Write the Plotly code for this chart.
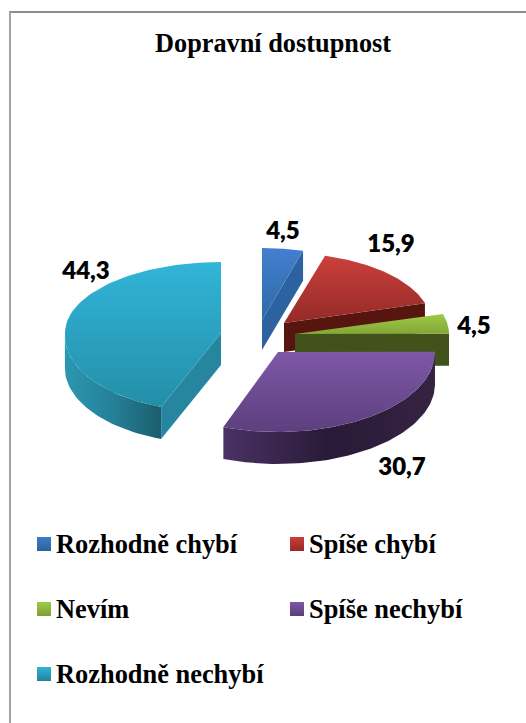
import math
import plotly.graph_objects as go

# ---- data ----
categories = ["Rozhodně chybí", "Spíše chybí", "Nevím", "Spíše nechybí", "Rozhodně nechybí"]
values = [4.5, 15.9, 4.5, 30.7, 44.3]
chart_title = "Dopravní dostupnost"

# ---- styling / layout ----
W, H = 526, 723
apex = [(262, 320), (284, 323), (295, 334), (278, 352), (221, 333)]
radius_x = [147, 147, 154, 157, 156]
radius_far = [72, 70, 72, 72, 71]
radius_near = [79, 79, 79, 80, 79]
near_shear = [0, 0, 0, 0, 6]
depth = [30, 29, 32, 32, 32]
top_col = [("#437fcf", "#2e6aa6"), ("#cb403c", "#932a27"), ("#9fcb44", "#82a637"),
           ("#7f58a8", "#5d3f7e"), ("#31b5d8", "#248ea8")]
cut_col = ["#2b629f", "#57150f", "#42521b", "#33203f", "#26869f"]
wall_col = [None, None, None,
            [[0, "#4a3264"], [0.5, "#281a38"], [1, "#352342"]],
            [[0, "#2c97b1"], [0.5, "#258098"], [1, "#1b5d6c"]]]
label_pos = [(283, 233), (391, 246), (474, 328), (402, 469), (86, 273)]
legend_pos = [(44, 544), (297, 544), (44, 609), (297, 609), (44, 674)]
legend_text_x = [56, 309, 56, 309, 56]
legend_text_y = [546, 546, 611, 611, 676]
legend_col = [("#3f7cc8", "#2c639c"), ("#cc3f3b", "#962a27"), ("#a0cc45", "#7f9e35"),
              ("#7f58a8", "#5a3d7a"), ("#31b5d8", "#22849c")]
SERIF = "Liberation Serif"

fig = go.Figure()


def pt(i, th, drop=0.0):
    ax, ay = apex[i]
    c = math.cos(th)
    b = radius_far[i] if c > 0 else radius_near[i]
    shear = near_shear[i] * min(c, 0.0)
    return ax + radius_x[i] * math.sin(th) + shear, ay - b * c + drop


def poly(xy, gradient):
    fig.add_trace(go.Scatter(
        x=[p[0] for p in xy], y=[p[1] for p in xy], mode="lines",
        line=dict(width=0), fill="toself", fillgradient=gradient,
        hoverinfo="skip", showlegend=False))


def solid(c):
    return dict(type="vertical", colorscale=[[0, c], [1, c]])


total = sum(values)
edges = [0.0]
for v in values:
    edges.append(edges[-1] + v / total * 2 * math.pi)

for i in [0, 4, 1, 2, 3]:
    a0, a1 = edges[i], edges[i + 1]
    n = 80
    ths = [a0 + (a1 - a0) * k / n for k in range(n + 1)]
    h = depth[i]
    # outer wall (front half only)
    if wall_col[i]:
        vis = [t for t in ths if math.pi / 2 <= t <= 3 * math.pi / 2]
        wall = [pt(i, t) for t in vis] + [pt(i, t, h) for t in reversed(vis)]
        poly(wall + wall[:1], dict(type="horizontal", colorscale=wall_col[i]))
    # visible cut face
    th = a0 if i == 4 else a1
    ax, ay = apex[i]
    if i != 3:
        quad = [(ax, ay), pt(i, th), pt(i, th, h), (ax, ay + h), (ax, ay)]
        poly(quad, solid(cut_col[i]))
    # top face (light at the far edge, darker toward the viewer)
    top = [(ax, ay)] + [pt(i, t) for t in ths] + [(ax, ay)]
    poly(top, dict(type="vertical", colorscale=[[0, top_col[i][1]], [1, top_col[i][0]]]))

# value labels
for i, v in enumerate(values):
    fig.add_trace(go.Scatter(
        x=[label_pos[i][0]], y=[label_pos[i][1]], mode="text",
        text=[f"{v:.1f}".replace(".", ",")], textposition="middle center",
        textfont=dict(family="Lato", size=24, color="#000000", weight=800),
        hoverinfo="skip", showlegend=False))

# legend rows
for i, c in enumerate(categories):
    fig.add_trace(go.Scatter(
        x=[legend_pos[i][0]], y=[legend_pos[i][1]], mode="markers", name=c,
        marker=dict(symbol="square", size=14, color=legend_col[i][0], line=dict(width=0),
                    gradient=dict(type="vertical", color=legend_col[i][1])),
        hoverinfo="skip", showlegend=False))
    fig.add_trace(go.Scatter(
        x=[legend_text_x[i]], y=[legend_text_y[i]], mode="text",
        text=[c], textposition="middle right",
        textfont=dict(family=SERIF, size=26.4, color="#000000", weight="bold"),
        hoverinfo="skip", showlegend=False))

fig.update_layout(
    width=W, height=H, margin=dict(l=0, r=0, t=0, b=0, pad=0),
    paper_bgcolor="#ffffff", plot_bgcolor="#ffffff", showlegend=False,
    xaxis=dict(range=[0, W], visible=False, fixedrange=True),
    yaxis=dict(range=[H, 0], visible=False, fixedrange=True),
    annotations=[dict(text=f"<b>{chart_title}</b>", x=273, y=43.5, xref="x", yref="y",
                      showarrow=False, font=dict(family=SERIF, size=26.3, color="#000000"))],
    shapes=[
        dict(type="line", xref="x", yref="y", x0=9, x1=W, y0=12, y1=12,
             line=dict(color="#8c8c8c", width=2)),
        dict(type="line", xref="x", yref="y", x0=10, x1=10, y0=12, y1=H,
             line=dict(color="#a3a3a3", width=2)),
    ],
)
fig.write_html("out.html", config=dict(displayModeBar=False),
               post_script="document.body.style.margin='0';document.body.style.overflow='hidden';")
